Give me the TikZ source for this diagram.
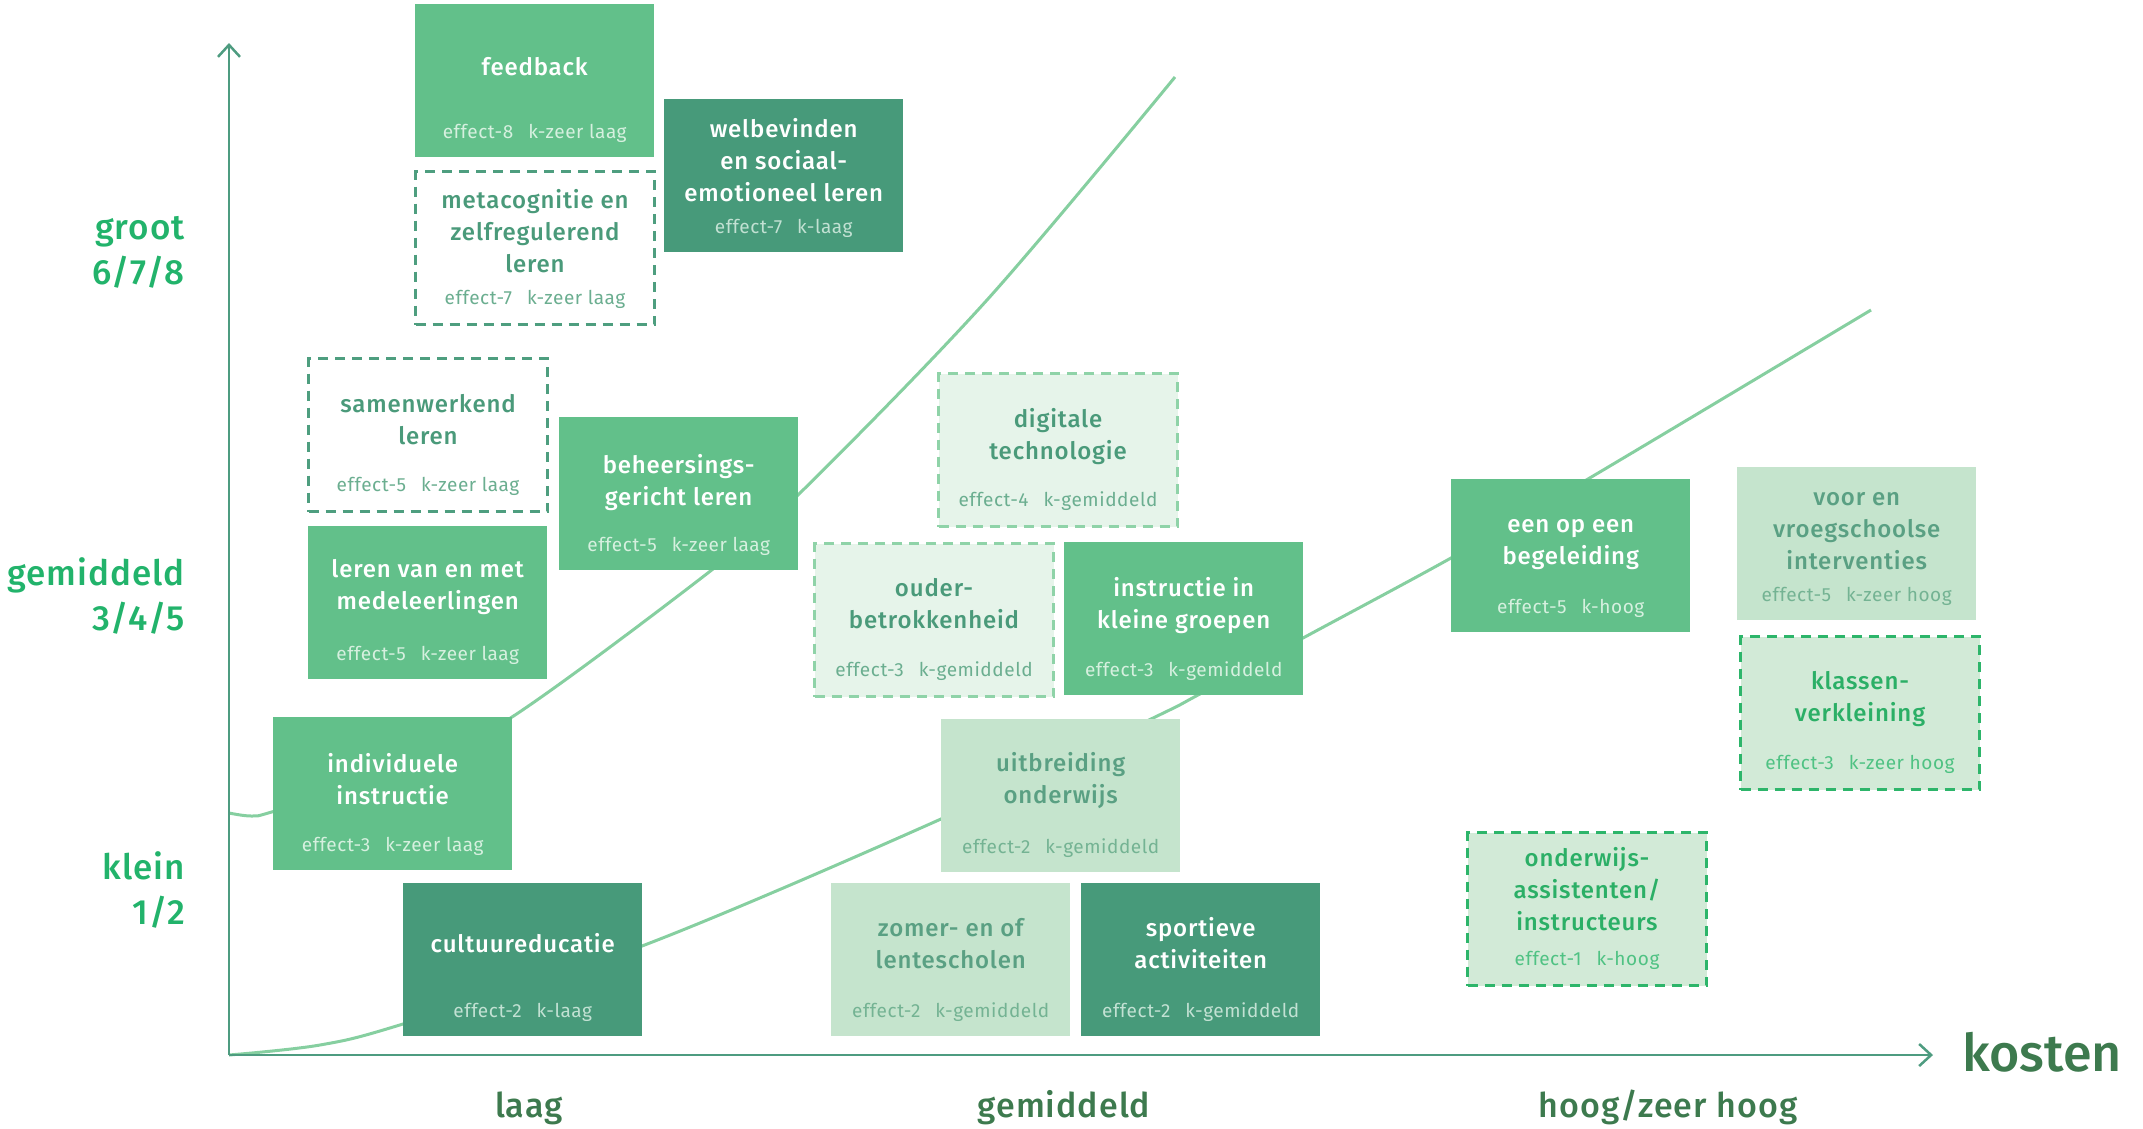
\documentclass[tikz,border=0pt]{standalone}
\usepackage{fontspec}
\setmainfont{Fira Sans}[BoldFont={Fira Sans Medium}]
\newfontfamily\ttlfont{Fira Sans}[BoldFont={Fira Sans Medium}, LetterSpace=3.5]
\newfontfamily\subfont{Fira Sans}[LetterSpace=3]
\newfontfamily\labfont{Fira Sans}[BoldFont={Fira Sans Medium}, LetterSpace=3]
\usetikzlibrary{arrows.meta}
\definecolor{cmed}{HTML}{62C08A}
\definecolor{cmedsub}{HTML}{D6F0DF}
\definecolor{cdark}{HTML}{479A7A}
\definecolor{cdarksub}{HTML}{C2E1D3}
\definecolor{clight}{HTML}{C5E4CD}
\definecolor{clighttxt}{HTML}{5AA083}
\definecolor{clightsub}{HTML}{74B393}
\definecolor{cvlight}{HTML}{E6F4EA}
\definecolor{cvlightbd}{HTML}{8FD3A8}
\definecolor{cteal}{HTML}{4A9A7A}
\definecolor{ctealsub}{HTML}{6BAE90}
\definecolor{cwbd}{HTML}{4E9E7F}
\definecolor{cbfill}{HTML}{D2EAD7}
\definecolor{cbbd}{HTML}{2DB56A}
\definecolor{cbtxt}{HTML}{2BAF66}
\definecolor{cbsub}{HTML}{4FC283}
\definecolor{caxis}{HTML}{4E9C80}
\definecolor{ccurve}{HTML}{86CFA0}
\definecolor{cylab}{HTML}{22B36B}
\definecolor{cxlab}{HTML}{3D7A4E}
\newcommand\mybox[7]{%
  \node[#4, anchor=north west] (#1) at (#2,#3) {};
  \node[ttl, #4title, anchor=north, yshift={-(#5-20)*1pt}] (#1-t) at (#1.north) {\rule{0pt}{20pt}#6};
  \node[sub, #4sub, anchor=base, yshift=-134pt] (#1-s) at (#1.north) {#7};
}
\newcommand\ksep{\hspace{15pt}}
\begin{document}
\begin{tikzpicture}[x=1pt,y=-1pt,
  boxbase/.style={rectangle, inner sep=0pt, minimum width=239pt, minimum height=153pt},
  dashbox/.style={draw, line width=3pt, dash pattern=on 10pt off 7pt},
  medium/.style={boxbase, fill=cmed},
  mediumtitle/.style={text=white},
  mediumsub/.style={text=cmedsub},
  dark/.style={boxbase, fill=cdark},
  darktitle/.style={text=white},
  darksub/.style={text=cdarksub},
  light/.style={boxbase, fill=clight},
  lighttitle/.style={text=clighttxt},
  lightsub/.style={text=clightsub},
  vlight/.style={boxbase, dashbox, fill=cvlight, draw=cvlightbd},
  vlighttitle/.style={text=cteal},
  vlightsub/.style={text=ctealsub},
  wdash/.style={boxbase, dashbox, fill=white, draw=cwbd},
  wdashtitle/.style={text=cteal},
  wdashsub/.style={text=ctealsub},
  bdash/.style={boxbase, dashbox, fill=cbfill, draw=cbbd},
  bdashtitle/.style={text=cbtxt},
  bdashsub/.style={text=cbsub},
  ttl/.style={inner sep=0pt, align=center, font=\ttlfont\bfseries\fontsize{24}{32}\selectfont},
  sub/.style={inner sep=0pt, font=\subfont\fontsize{19}{22}\selectfont},
  axis/.style={draw=caxis, line width=2.5pt, -{Straight Barb[length=12pt,width=22pt,line width=2.5pt]}},
  curve/.style={draw=ccurve, line width=3pt},
  ylab/.style={inner sep=0pt, anchor=base east, text=cylab, font=\labfont\bfseries\fontsize{35}{45}\selectfont},
  xlab/.style={inner sep=0pt, anchor=base, text=cxlab, font=\labfont\bfseries\fontsize{34}{40}\selectfont}
]
\useasboundingbox (0,0) rectangle (2143,1128);
% trend curves
\draw[curve] plot[smooth, tension=0.55] coordinates {(229,813) (252,816) (275,811) (400,772) (512,717) (713,569) (798,495) (987,300) (1175,77)};
\draw[curve] plot[smooth, tension=0.55] coordinates {(229,1055) (320,1045) (403,1024) (642,946) (941,819) (1151,719) (1198,695) (1303,638) (1451,558) (1588,479) (1871,310)};
% axes
\coordinate (O) at (229,1055);
\coordinate (ytop) at (229,43);
\coordinate (xend) at (1933,1055);
\draw[axis] (O) -- (ytop);
\draw[axis] (O) -- (xend);
% boxes
\mybox{fb}{415}{4}{medium}{71}{feedback}{effect-8\ksep k-zeer laag}
\mybox{wb}{664}{99}{dark}{38}{welbevinden\\en sociaal-\\emotioneel leren}{effect-7\ksep k-laag}
\mybox{mc}{414}{170}{wdash}{38}{metacognitie en\\zelfregulerend\\leren}{effect-7\ksep k-zeer laag}
\mybox{sw}{307}{357}{wdash}{55}{samenwerkend\\leren}{effect-5\ksep k-zeer laag}
\mybox{bh}{559}{417}{medium}{56}{beheersings-\\gericht leren}{effect-5\ksep k-zeer laag}
\mybox{lv}{308}{526}{medium}{51}{leren van en met\\medeleerlingen}{effect-5\ksep k-zeer laag}
\mybox{ii}{273}{717}{medium}{55}{individuele\\instructie}{effect-3\ksep k-zeer laag}
\mybox{cu}{403}{883}{dark}{69}{cultuureducatie}{effect-2\ksep k-laag}
\mybox{dt}{937}{372}{vlight}{55}{digitale\\technologie}{effect-4\ksep k-gemiddeld}
\mybox{ob}{813}{542}{vlight}{54}{ouder-\\betrokkenheid}{effect-3\ksep k-gemiddeld}
\mybox{ik}{1064}{542}{medium}{54}{instructie in\\kleine groepen}{effect-3\ksep k-gemiddeld}
\mybox{uo}{941}{719}{light}{52}{uitbreiding\\onderwijs}{effect-2\ksep k-gemiddeld}
\mybox{zl}{831}{883}{light}{53}{zomer- en of\\lentescholen}{effect-2\ksep k-gemiddeld}
\mybox{sa}{1081}{883}{dark}{53}{sportieve\\activiteiten}{effect-2\ksep k-gemiddeld}
\mybox{eb}{1451}{479}{medium}{53}{een op een\\begeleiding}{effect-5\ksep k-hoog}
\mybox{vv}{1737}{467}{light}{38}{voor en\\vroegschoolse\\interventies}{effect-5\ksep k-zeer hoog}
\mybox{kv}{1739}{635}{bdash}{54}{klassen-\\verkleining}{effect-3\ksep k-zeer hoog}
\mybox{oa}{1466}{831}{bdash}{35}{onderwijs-\\assistenten/\\instructeurs}{effect-1\ksep k-hoog}
% y labels
\node[ylab] (ly1) at (185,239) {groot};
\node[ylab] (ly2) at (185,284) {6/7/8};
\node[ylab] (ly3) at (185,585) {gemiddeld};
\node[ylab] (ly4) at (185,630) {3/4/5};
\node[ylab] (ly5) at (185,879) {klein};
\node[ylab] (ly6) at (185,924) {1/2};
% x labels
\node[xlab] (lx1) at (529,1117) {laag};
\node[xlab] (lx2) at (1064,1117) {gemiddeld};
\node[xlab] (lx3) at (1668,1117) {hoog/zeer hoog};
\node[xlab, anchor=base west, font=\bfseries\fontsize{52}{60}\selectfont] (kosten) at (1962,1071) {kosten};
\end{tikzpicture}
\end{document}
